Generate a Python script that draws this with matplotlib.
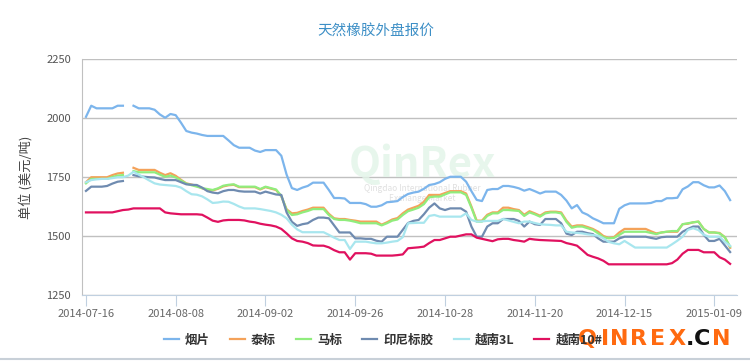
import matplotlib
matplotlib.use('Agg')
import matplotlib.pyplot as plt
import numpy as np

plt.rcParams['font.family'] = ['Noto Sans CJK SC', 'DejaVu Sans']

# ---------------------------------------------------------------- data
n_points = 123
tick_labels = ['2014-07-16', '2014-08-08', '2014-09-02', '2014-09-26',
               '2014-10-28', '2014-11-20', '2014-12-15', '2015-01-09']
tick_step = 17

names = ['烟片', '泰标', '马标', '印尼标胶', '越南3L', '越南10#']

yanpian = [2005, 2052, 2041, 2041, 2041, 2041, 2052, 2052, None, 2052,
           2041, 2041, 2041, 2035, 2015, 2001, 2017, 2012, 1980, 1945,
           1938, 1934, 1928, 1924, 1924, 1924, 1924, 1905, 1885, 1874,
           1874, 1874, 1862, 1856, 1864, 1864, 1864, 1840, 1760, 1703,
           1695, 1705, 1712, 1726, 1726, 1726, 1695, 1661, 1661, 1659,
           1640, 1640, 1640, 1635, 1624, 1624, 1630, 1643, 1645, 1648,
           1665, 1678, 1684, 1688, 1700, 1716, 1720, 1728, 1742, 1751,
           1751, 1751, 1730, 1690, 1653, 1648, 1695, 1699, 1699, 1712,
           1712, 1708, 1702, 1692, 1699, 1690, 1680, 1688, 1688, 1688,
           1674, 1650, 1617, 1631, 1600, 1590, 1575, 1565, 1554, 1554,
           1554, 1615, 1630, 1638, 1638, 1638, 1638, 1640, 1648, 1648,
           1660, 1660, 1662, 1698, 1710, 1728, 1728, 1715, 1706, 1706,
           1714, 1690, 1652]

taibiao = [1728, 1749, 1749, 1749, 1749, 1758, 1765, 1768, None, 1789,
           1780, 1780, 1780, 1780, 1768, 1758, 1766, 1755, 1738, 1723,
           1718, 1712, 1702, 1695, 1693, 1700, 1710, 1715, 1717, 1707,
           1707, 1707, 1707, 1697, 1707, 1701, 1695, 1668, 1613, 1596,
           1598, 1606, 1612, 1620, 1620, 1620, 1594, 1575, 1572, 1572,
           1568, 1565, 1561, 1561, 1561, 1561, 1548, 1558, 1570, 1576,
           1596, 1612, 1620, 1628, 1645, 1674, 1674, 1674, 1682, 1690,
           1690, 1690, 1680, 1625, 1565, 1565, 1590, 1600, 1600, 1620,
           1620, 1614, 1610, 1590, 1605, 1596, 1586, 1600, 1603, 1603,
           1600, 1565, 1540, 1545, 1545, 1538, 1530, 1518, 1500, 1492,
           1495, 1515, 1530, 1530, 1530, 1530, 1530, 1520, 1511, 1515,
           1518, 1518, 1518, 1550, 1552, 1558, 1561, 1530, 1515, 1515,
           1513, 1495, 1450]

mabiao = [1723, 1742, 1742, 1742, 1742, 1750, 1756, 1758, None, 1775,
          1770, 1770, 1770, 1770, 1760, 1751, 1756, 1748, 1735, 1722,
          1715, 1709, 1703, 1699, 1695, 1702, 1713, 1717, 1719, 1709,
          1709, 1709, 1709, 1699, 1709, 1703, 1697, 1670, 1610, 1589,
          1592, 1600, 1606, 1614, 1614, 1614, 1589, 1572, 1568, 1568,
          1565, 1560, 1554, 1554, 1554, 1554, 1545, 1554, 1565, 1570,
          1589, 1605, 1612, 1620, 1635, 1664, 1667, 1667, 1676, 1685,
          1685, 1685, 1674, 1620, 1561, 1561, 1585, 1596, 1596, 1610,
          1610, 1608, 1606, 1585, 1600, 1592, 1582, 1596, 1600, 1600,
          1596, 1560, 1535, 1540, 1540, 1533, 1526, 1511, 1495, 1490,
          1492, 1505, 1518, 1518, 1518, 1518, 1518, 1513, 1508, 1515,
          1518, 1521, 1521, 1550, 1554, 1558, 1561, 1530, 1515, 1515,
          1511, 1495, 1455]

yinni = [1691, 1709, 1709, 1709, 1712, 1722, 1730, 1733, None, 1758,
         1753, 1751, 1749, 1748, 1742, 1737, 1737, 1737, 1728, 1719,
         1717, 1716, 1705, 1690, 1684, 1681, 1690, 1695, 1695, 1690,
         1688, 1688, 1688, 1680, 1688, 1682, 1676, 1674, 1600, 1560,
         1543, 1550, 1554, 1568, 1578, 1578, 1575, 1545, 1515, 1515,
         1515, 1490, 1490, 1488, 1488, 1480, 1476, 1497, 1497, 1497,
         1526, 1555, 1564, 1568, 1592, 1620, 1638, 1617, 1610, 1617,
         1617, 1617, 1603, 1540, 1497, 1497, 1540, 1554, 1554, 1572,
         1572, 1572, 1564, 1540, 1561, 1550, 1547, 1572, 1572, 1572,
         1554, 1510, 1504, 1518, 1518, 1512, 1508, 1490, 1476, 1476,
         1476, 1490, 1497, 1497, 1497, 1497, 1497, 1492, 1488, 1495,
         1497, 1497, 1497, 1518, 1530, 1540, 1540, 1505, 1479, 1479,
         1488, 1460, 1432]

yuenan3l = [1728, 1737, 1740, 1742, 1742, 1745, 1749, 1749, 1756, 1772,
            1760, 1748, 1735, 1723, 1718, 1716, 1714, 1712, 1705, 1690,
            1677, 1675, 1668, 1655, 1640, 1642, 1646, 1645, 1636, 1625,
            1617, 1617, 1617, 1614, 1610, 1606, 1600, 1590, 1575, 1548,
            1528, 1516, 1516, 1516, 1516, 1516, 1505, 1493, 1483, 1483,
            1445, 1476, 1476, 1476, 1472, 1469, 1469, 1472, 1476, 1479,
            1495, 1554, 1555, 1556, 1556, 1585, 1589, 1582, 1582, 1582,
            1582, 1582, 1596, 1568, 1561, 1562, 1564, 1564, 1564, 1572,
            1566, 1560, 1554, 1561, 1561, 1555, 1550, 1548, 1547, 1545,
            1545, 1518, 1515, 1513, 1511, 1507, 1504, 1501, 1490, 1475,
            1469, 1465, 1479, 1465, 1451, 1451, 1451, 1451, 1451, 1451,
            1451, 1465, 1480, 1497, 1526, 1533, 1525, 1505, 1497, 1497,
            1497, 1475, 1458]

yuenan10 = [1600, 1600, 1600, 1600, 1600, 1600, 1605, 1610, 1612, 1617,
            1617, 1617, 1617, 1617, 1617, 1600, 1596, 1594, 1592, 1592,
            1592, 1592, 1590, 1578, 1565, 1560, 1566, 1568, 1568, 1568,
            1566, 1561, 1558, 1552, 1548, 1545, 1540, 1530, 1511, 1490,
            1479, 1476, 1470, 1460, 1459, 1459, 1452, 1440, 1431, 1431,
            1400, 1427, 1427, 1427, 1425, 1417, 1417, 1417, 1417, 1419,
            1422, 1448, 1450, 1452, 1455, 1470, 1483, 1483, 1490, 1497,
            1497, 1502, 1507, 1507, 1493, 1488, 1483, 1478, 1486, 1488,
            1488, 1483, 1480, 1476, 1488, 1485, 1483, 1482, 1481, 1480,
            1479, 1470, 1465, 1459, 1440, 1420, 1412, 1405, 1395, 1380,
            1380, 1380, 1380, 1380, 1380, 1380, 1380, 1380, 1380, 1380,
            1380, 1385, 1400, 1425, 1441, 1441, 1441, 1431, 1431, 1431,
            1410, 1400, 1382]

series = [yanpian, taibiao, mabiao, yinni, yuenan3l, yuenan10]
colors = ['#7cb5ec', '#f4a25a', '#90ed7d', '#6f8bb0', '#a8e6ee', '#e0115f']

# ---------------------------------------------------------------- plot
fig = plt.figure(figsize=(7.5, 3.62), dpi=100)
ax = fig.add_axes([82/750, 1-295/362, (737-82)/750, (295-59)/362])

x = np.arange(n_points)
for vals, name, c in zip(series, names, colors):
    y = np.array([np.nan if v is None else v for v in vals], dtype=float)
    ax.plot(x, y, color=c, lw=1.6, label=name, solid_joinstyle='round', zorder=3)

ax.set_ylim(1250, 2250)
ax.set_yticks([1250, 1500, 1750, 2000, 2250])
ax.set_xlim(-0.75, n_points + 0.3)
ax.set_xticks(np.arange(0, n_points, tick_step))
ax.set_xticklabels(tick_labels)

ax.grid(axis='y', color='#c0c0c0', lw=1)
ax.set_axisbelow(True)
for s in ['top', 'right']:
    ax.spines[s].set_visible(False)
ax.spines['left'].set_color('#c0c0c0')
ax.spines['bottom'].set_color('#c0d0e0')
ax.tick_params(axis='y', length=0, pad=8, labelsize=8, labelcolor='#555555')
ax.tick_params(axis='x', length=8, color='#c0d0e0', pad=2, labelsize=8,
               labelcolor='#666666')

ax.set_ylabel('单位 (美元/吨)', fontsize=9.5, color='#444444', labelpad=10)

fig.text(0.501, 1-32/362, '天然橡胶外盘报价', ha='center', va='center',
         fontsize=10.5, color='#3d8fc6')

# faint watermark in the middle
ax.text(0.52, 0.55, 'QinRex', transform=ax.transAxes, fontsize=30,
        fontweight='bold', style='italic', color='#e2f4e8', alpha=0.8,
        ha='center', va='center', zorder=1)
ax.text(0.52, 0.43, 'Qingdao International Rubber\nExchange Market', transform=ax.transAxes,
        fontsize=6, style='italic', color='#e0e0e0', ha='center', va='center',
        zorder=1)

leg = fig.legend(loc='center', bbox_to_anchor=(383/750, 1-340/362), ncol=6,
                 frameon=False, fontsize=9, handlelength=1.2, handletextpad=0.5,
                 columnspacing=1.6)
for t in leg.get_texts():
    t.set_color('#333333')
    t.set_fontweight('bold')

# QINREX.CN stamp
stamp = 'QINREX.CN'
stamp_x = [587, 605, 619, 639, 658, 677, 690, 702, 721]
for ch, px in zip(stamp, stamp_x):
    fig.text(px/750, 1-339/362, ch, ha='center', va='center', fontsize=16,
             fontweight='bold', family='DejaVu Sans',
             color='#ff6a10' if ch in 'QINREX' else '#111111', zorder=5)

fig.add_artist(plt.Line2D([0, 1], [1-359/362, 1-359/362], color='#c8d0d8', lw=1.5))

fig.savefig('out.png', dpi=100)
